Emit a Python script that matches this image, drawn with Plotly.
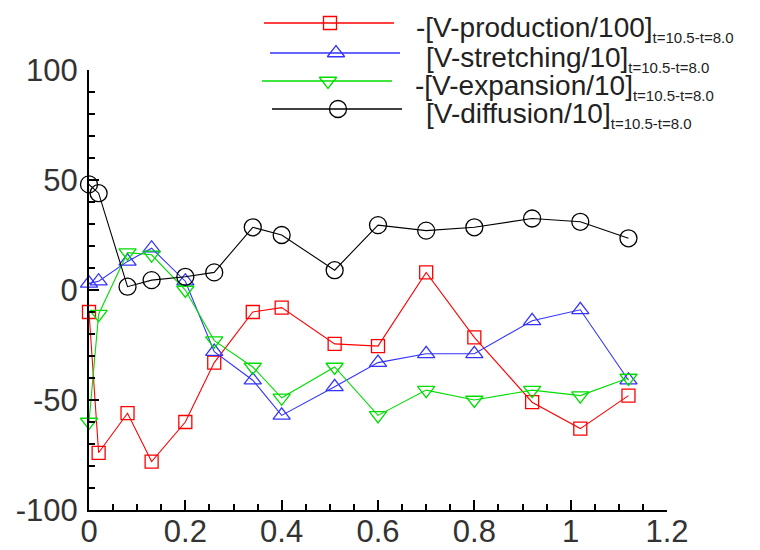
import plotly.graph_objects as go

# ---------------- data ----------------
x_vals = [0, 0.02, 0.08, 0.13, 0.2, 0.26, 0.34, 0.4, 0.51, 0.6, 0.7, 0.8, 0.92, 1.02, 1.12]
production = [-10, -74, -56, -78, -60, -33, -10, -8, -24.5, -25.5, 8, -21.5, -51, -63, -48]
stretching = [3, 4, 13, 19, 4, -28, -41, -57, -44, -33, -29, -29, -14, -9, -41]
expansion = [-60, -11, 17, 16, 0, -23, -35, -49, -35, -57, -45.5, -50, -45.5, -48, -40]
diffusion = [48, 44, 1.5, 4.5, 6, 8, 28.5, 25, 9, 29.5, 27, 28.5, 32.5, 31, 23.5]

series_names = ["-[V-production/100]", "[V-stretching/10]", "-[V-expansion/10]", "[V-diffusion/10]"]
series_sub = "t=10.5-t=8.0"
series_values = [production, stretching, expansion, diffusion]
series_colors = ["#ff0000", "#3333ff", "#00dd00", "#000000"]
series_symbols = ["square-open", "triangle-up-open", "triangle-down-open", "circle-open"]
series_sizes = [13, 15, 15, 17]

x_tickvals = [0, 0.2, 0.4, 0.6, 0.8, 1.0, 1.2]
x_ticktext = ["0", "0.2", "0.4", "0.6", "0.8", "1", "1.2"]
y_tickvals = [-100, -50, 0, 50, 100]
y_ticktext = ["-100", "-50", "0", "50", "100"]

# ---------------- layout geometry (pixels) ----------------
W, H = 760, 550
PL, PR, PT, PB = 89, 667, 70, 510  # plot area edges
FONT = "Liberation Sans, Arial, sans-serif"

fig = go.Figure()

for name, vals, col, sym, sz in zip(series_names, series_values, series_colors, series_symbols, series_sizes):
    fig.add_trace(go.Scatter(
        x=x_vals, y=vals, mode="lines+markers", name=name,
        line=dict(color=col, width=1.1),
        marker=dict(symbol=sym, size=sz, color=col, line=dict(color=col, width=1.3)),
        cliponaxis=False, showlegend=False,
        xaxis="x", yaxis="y",
    ))

# ---------------- custom legend (on a pixel-space helper axis) ----------------
leg_rows = [23, 53, 81, 109]
leg_line_start = [264, 270, 262, 272]
leg_text_x = [414, 424, 413, 424]
for i, (name, col, sym, sz) in enumerate(zip(series_names, series_colors, series_symbols, series_sizes)):
    y0 = leg_rows[i]
    xs = leg_line_start[i]
    fig.add_trace(go.Scatter(
        x=[xs, xs + 130], y=[y0, y0], mode="lines",
        line=dict(color=col, width=1.3), showlegend=False, hoverinfo="skip",
        xaxis="x2", yaxis="y2", cliponaxis=False,
    ))
    fig.add_trace(go.Scatter(
        x=[xs + 66], y=[y0], mode="markers",
        marker=dict(symbol=sym, size=sz, color=col, line=dict(color=col, width=1.3)),
        showlegend=False, hoverinfo="skip", xaxis="x2", yaxis="y2", cliponaxis=False,
    ))
    fig.add_annotation(
        x=leg_text_x[i], y=y0 + 6, xref="x2", yref="y2",
        text=name + "<sub><span style='font-size:15px'>" + series_sub + "</span></sub>",
        showarrow=False, xanchor="left", yanchor="middle",
        font=dict(family=FONT, size=28, color="#222222"),
    )

axis_common = dict(
    showgrid=False, zeroline=False, showline=True, linecolor="black", linewidth=2,
    ticks="inside", ticklen=10, tickwidth=2, tickcolor="black",
    tickfont=dict(family=FONT, size=31, color="#333333"),
    mirror=False, automargin=False,
)

fig.update_layout(
    width=W, height=H, autosize=False,
    margin=dict(l=0, r=0, t=0, b=0, autoexpand=False),
    paper_bgcolor="white", plot_bgcolor="rgba(0,0,0,0)",
    showlegend=False,
    xaxis=dict(
        domain=[PL / W, PR / W], range=[0, 1.2], anchor="y",
        tickvals=x_tickvals, ticktext=x_ticktext,
        minor=dict(dtick=0.05, tick0=0, ticks="inside", ticklen=6, tickwidth=1.5, tickcolor="black"),
        ticklabelstandoff=-7,
        **axis_common,
    ),
    yaxis=dict(
        domain=[(H - PB) / H, (H - PT) / H], range=[-100, 100], anchor="x",
        tickvals=y_tickvals, ticktext=y_ticktext,
        minor=dict(dtick=10, tick0=0, ticks="inside", ticklen=6, tickwidth=1.5, tickcolor="black"),
        ticklabelstandoff=3,
        **axis_common,
    ),
    xaxis2=dict(domain=[0, 1], range=[0, W], visible=False, anchor="y2", automargin=False),
    yaxis2=dict(domain=[0, 1], range=[H, 0], visible=False, anchor="x2", automargin=False),
)

fig.write_html("out.html")
